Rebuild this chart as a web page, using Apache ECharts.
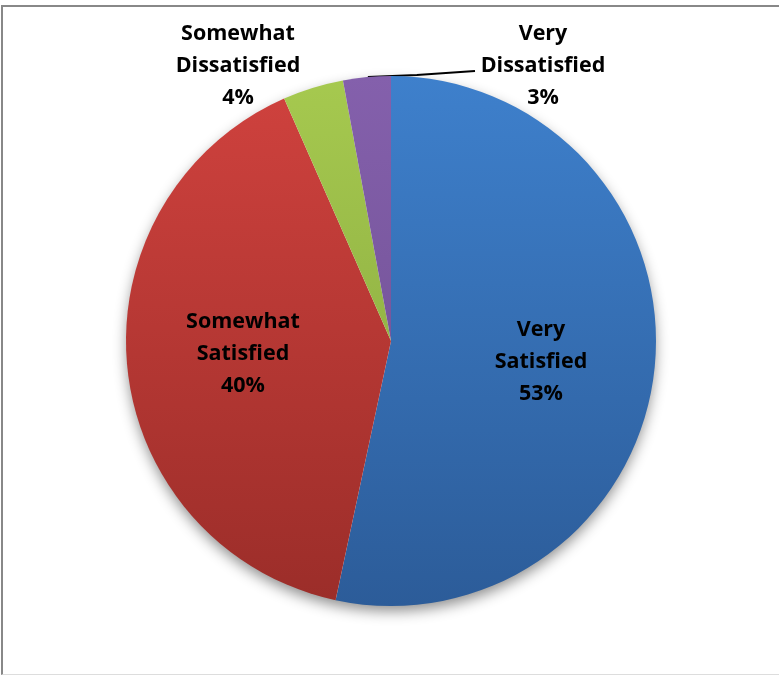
<!DOCTYPE html>
<html>
<head>
<meta charset="utf-8">
<script src="https://cdn.jsdelivr.net/npm/echarts@6/dist/echarts.min.js"></script>
<style>
  html, body { margin: 0; padding: 0; background: #fff; }
  #frame {
    position: absolute; left: 1px; top: 5px; width: 778px; height: 670px;
    border-left: 2px solid #888; border-top: 2px solid #888; border-bottom: 1px solid #ddd;
    box-sizing: border-box;
  }
  #chart { position: absolute; left: 0; top: 0; width: 779px; height: 677px; }
</style>
</head>
<body>
<div id="frame"></div>
<div id="chart"></div>
<script>
// data (share of respondents)
const categories = ['Very Satisfied', 'Somewhat Satisfied', 'Somewhat Dissatisfied', 'Very Dissatisfied'];
const labelNames = ['Very\nSatisfied', 'Somewhat\nSatisfied', 'Somewhat\nDissatisfied', 'Very\nDissatisfied'];
const values = [53.3, 40.0, 3.7, 2.9];

// layout
const cx = 391, cy = 341, R = 265;
const colors = [
  ['#3E80CC', '#2C5C99'],
  ['#D0423E', '#9B2D29'],
  ['#A6C94F', '#82A23C'],
  ['#8460AC', '#6A4C8C']
];

const grad = (c) => new echarts.graphic.LinearGradient(0, cy - R, 0, cy + R, [
  { offset: 0, color: c[0] },
  { offset: 1, color: c[1] }
], true);

const labelFont = {
  fontFamily: '"Open Sans", Lato, sans-serif',
  fontWeight: 'bold',
  fontSize: 21.5,
  lineHeight: 32,
  color: '#000',
  align: 'center'
};

const chart = echarts.init(document.getElementById('chart'));

const total = values.reduce((a, b) => a + b, 0);

const option = {
  animation: false,
  series: [
    {
      // shadow under the pie
      type: 'pie',
      silent: true,
      z: 1,
      center: [cx, cy],
      radius: R - 1,
      label: { show: false },
      labelLine: { show: false },
      itemStyle: {
        color: '#fff',
        shadowBlur: 14,
        shadowOffsetY: 6,
        shadowColor: 'rgba(0,0,0,0.45)'
      },
      data: [1]
    },
    {
      type: 'pie',
      z: 2,
      center: [cx, cy],
      radius: R,
      startAngle: 90,
      clockwise: true,
      avoidLabelOverlap: false,
      label: {
        ...labelFont,
        formatter: (p) => labelNames[p.dataIndex] + '\n' + Math.round(p.value / total * 100) + '%'
      },
      labelLine: { lineStyle: { color: '#000', width: 2 } },
      data: values.map((v, i) => ({
        name: categories[i],
        value: v,
        itemStyle: { color: grad(colors[i]) },
        label: { position: i < 2 ? 'inside' : 'outside' },
        labelLine: { show: i === 3, length: 10, length2: 10 }
      })),
      labelLayout: (p) => {
        if (p.seriesIndex !== 1) return {};
        const i = p.dataIndex;
        if (i === 0) return { x: cx + 150, y: cy + 21, align: 'center', verticalAlign: 'middle' };
        if (i === 1) return { x: cx - 148, y: cy + 13, align: 'center', verticalAlign: 'middle' };
        if (i === 2) return { x: cx - 153, y: cy - 275, align: 'center', verticalAlign: 'middle' };
        // very dissatisfied: line from the slice edge out to the right
        const mid = (values[0] + values[1] + values[2] + values[3] / 2) / total * 360;
        const a = (90 - mid) * Math.PI / 180;
        const ex = cx + R * Math.cos(a);
        const ey = cy - R * Math.sin(a);
        return {
          x: cx + 152, y: cy - 275, align: 'center', verticalAlign: 'middle',
          labelLinePoints: [[ex + 1, ey], [ex + 50, ey - 2], [cx + 84, cy - 270]]
        };
      }
    }
  ]
};

chart.setOption(option);
</script>
</body>
</html>
